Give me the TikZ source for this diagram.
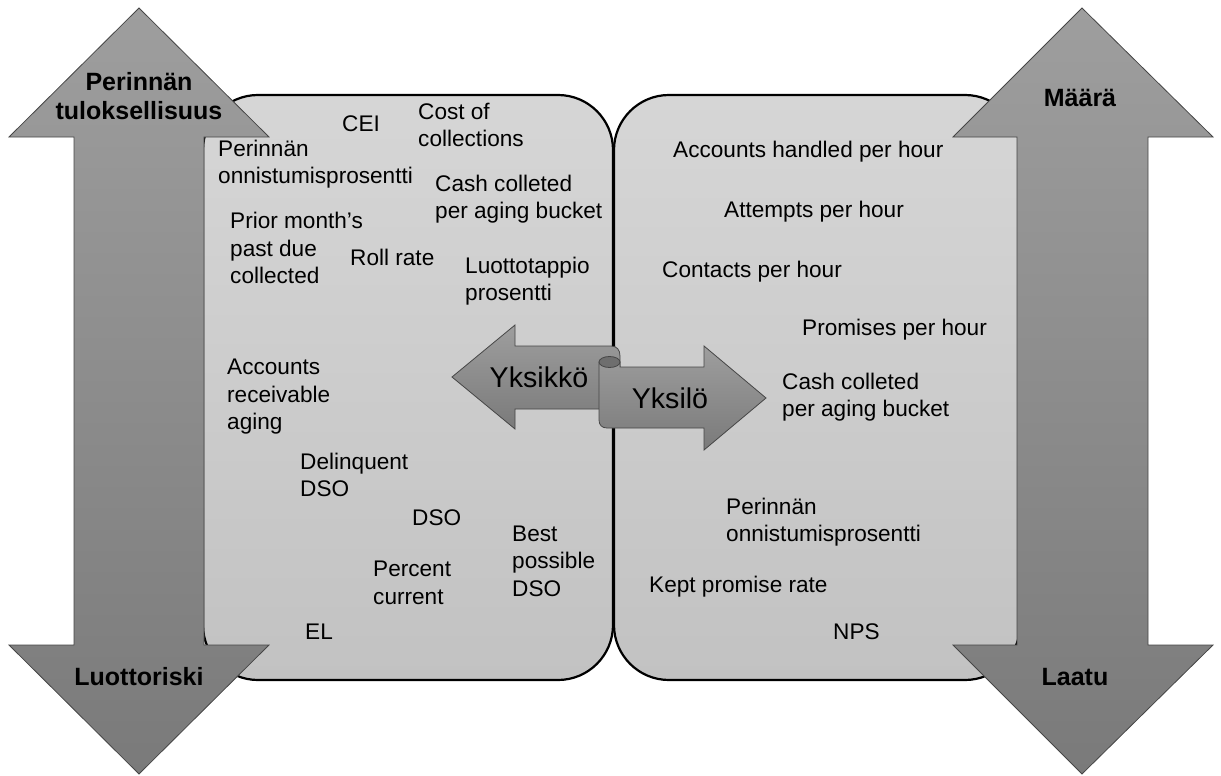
\documentclass[tikz,border=0pt]{standalone}
\usepackage{fontspec}
\setmainfont{Liberation Sans}
\definecolor{boxtop}{RGB}{214,214,214}
\definecolor{boxbot}{RGB}{194,194,194}
\definecolor{arrtop}{RGB}{158,158,158}
\definecolor{arrbot}{RGB}{122,122,122}
\definecolor{arredge}{RGB}{70,70,70}
\definecolor{curl}{RGB}{110,110,110}
\newcommand{\metricfont}{\fontsize{22.6}{27.5}\selectfont}
\newcommand{\axisfont}{\fontsize{25}{29}\selectfont\bfseries}
\newcommand{\levelfont}{\fontsize{28.6}{33}\selectfont}
\begin{document}
\begin{tikzpicture}[x=1pt, y=-1pt,
  panel/.style={draw=black, line width=2.2pt, rounded corners=55pt, top color=boxtop, bottom color=boxbot},
  bigarrow/.style={draw=arredge, line width=0.8pt, top color=arrtop, bottom color=arrbot},
  metric/.style={font=\metricfont, align=left, inner sep=0pt, anchor=west},
  axislabel/.style={font=\axisfont, align=center, inner sep=0pt},
  levellabel/.style={font=\levelfont, inner sep=0pt}]
\useasboundingbox (0,0) rectangle (1221,776);
% the two panels
\draw [panel] (203,95) rectangle (613,680);
\draw [panel] (614,95) rectangle (1020,680);
% vertical double arrows
\draw [bigarrow] (139,8) -- (269,137) -- (204,137) -- (204,645) -- (269,645) -- (139,774)
  -- (9,645) -- (74,645) -- (74,137) -- (9,137) -- cycle;
\draw [bigarrow] (1082,8) -- (1213,137) -- (1148,137) -- (1148,645) -- (1213,645) -- (1082,774)
  -- (953,645) -- (1017,645) -- (1017,137) -- (953,137) -- cycle;
\node [axislabel] (tulos) at (139,96) {Perinnän\\tuloksellisuus};
\node [axislabel] (riski) at (139,677) {Luottoriski};
\node [axislabel] (maara) at (1080,98) {Määrä};
\node [axislabel] (laatu) at (1075,677) {Laatu};
% centre arrows
\draw [bigarrow] (452,377) -- (515,325) -- (515,346) -- (611,346)
  .. controls (617,346) and (620,350) .. (620,356) -- (620,409) -- (515,409) -- (515,429) -- cycle;
\draw [bigarrow] (599,362) -- (599,420) .. controls (599,425) and (602,428) .. (607,428)
  -- (704,428) -- (704,450) -- (766,398) -- (704,346) -- (704,367) -- (620,367) -- (620,362) -- cycle;
\draw [draw=arredge, line width=0.8pt, fill=curl] (609.5,362) ellipse [x radius=10.5, y radius=5.5];
\node [levellabel] (yksikko) at (539,377) {Yksikkö};
\node [levellabel] (yksilo) at (670,398) {Yksilö};
% left panel metrics
\node [metric] (cei) at (342,124) {CEI};
\node [metric] (cost) at (418,125) {Cost of\\collections};
\node [metric] (onnL) at (218,164) {Perinnän\\onnistumisprosentti};
\node [metric] (cashL) at (435,199) {Cash colleted\\per aging bucket};
\node [metric] (prior) at (230,248) {Prior month’s\\past due\\collected};
\node [metric] (roll) at (350,257) {Roll rate};
\node [metric] (tappio) at (465,281) {Luottotappio\\prosentti};
\node [metric] (aging) at (227,397) {Accounts\\receivable\\aging};
\node [metric] (delinq) at (300,475) {Delinquent\\DSO};
\node [metric] (dso) at (412,518) {DSO};
\node [metric] (best) at (512,561) {Best\\possible\\DSO};
\node [metric] (current) at (373,583) {Percent\\current};
\node [metric] (el) at (305,632) {EL};
% right panel metrics
\node [metric] (handled) at (673,152) {Accounts handled per hour};
\node [metric] (attempts) at (724,212) {Attempts per hour};
\node [metric] (contacts) at (662,272) {Contacts per hour};
\node [metric] (promises) at (802,330) {Promises per hour};
\node [metric] (cashR) at (782,397) {Cash colleted\\per aging bucket};
\node [metric] (onnR) at (726,522) {Perinnän\\onnistumisprosentti};
\node [metric] (kept) at (649,587) {Kept promise rate};
\node [metric] (nps) at (833,632) {NPS};
\end{tikzpicture}
\end{document}
